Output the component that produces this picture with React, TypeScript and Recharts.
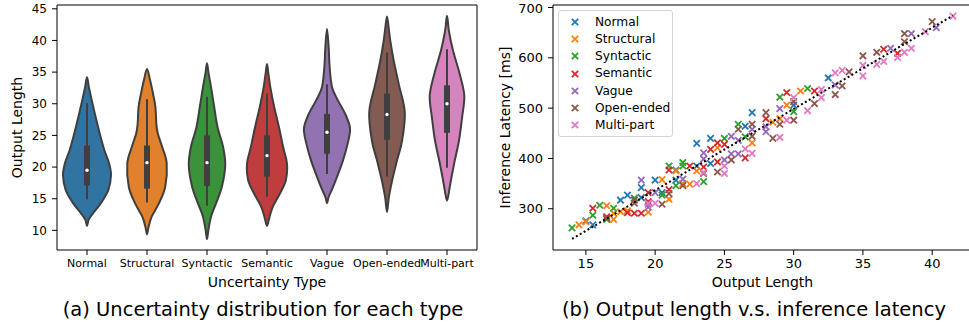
import {
  Bar,
  BarChart,
  Legend,
  Scatter,
  ScatterChart,
  XAxis,
  YAxis,
} from "recharts";

// ---- panel (a): violins ----
const categories = ["Normal", "Structural", "Syntactic", "Semantic", "Vague", "Open-ended", "Multi-part"];
const violinColors = ["#3274a1", "#e1812c", "#3a923a", "#c03d3e", "#9372b2", "#845b53", "#d684bd"];

// [output length, relative half width], bottom tip to top tip
const normalShape = [[10.7, 0], [11.7, 0.07], [12.7, 0.25], [14.3, 0.58], [16.4, 0.89], [18.7, 1], [20.6, 0.92], [22.7, 0.72], [25.3, 0.53], [27.9, 0.36], [30.5, 0.2], [32.6, 0.08], [34.2, 0]];
const structuralShape = [[9.4, 0], [10.6, 0.07], [12.2, 0.2], [14.3, 0.5], [16.9, 0.76], [20.6, 0.82], [23.2, 0.63], [25.3, 0.45], [26.8, 0.39], [29.5, 0.35], [31.6, 0.25], [33.7, 0.13], [35.5, 0]];
const syntacticShape = [[8.6, 0], [10.1, 0.06], [12.2, 0.17], [14.3, 0.38], [16.9, 0.62], [20.3, 0.76], [23.2, 0.67], [26.3, 0.44], [29.5, 0.3], [32.6, 0.17], [34.7, 0.07], [36.4, 0]];
const semanticShape = [[10.7, 0], [12.2, 0.11], [13.8, 0.25], [15.9, 0.55], [18, 0.79], [20.6, 0.83], [23.2, 0.67], [26.3, 0.5], [29.5, 0.3], [32.6, 0.14], [34.7, 0.06], [36.3, 0]];
const vagueShape = [[14.3, 0], [15.3, 0.07], [16.4, 0.2], [18.5, 0.42], [21.1, 0.67], [23.7, 0.86], [26.1, 0.96], [28.4, 0.76], [30.5, 0.46], [32.6, 0.21], [35.8, 0.11], [38.9, 0.07], [41.8, 0]];
const openEndedShape = [[12.9, 0], [15.3, 0.08], [18, 0.22], [21.1, 0.42], [24.2, 0.63], [28.7, 0.74], [33.1, 0.49], [36.8, 0.28], [39.9, 0.14], [42, 0.07], [43.8, 0]];
const multiPartShape = [[14.7, 0], [15.6, 0.06], [17.4, 0.14], [20.6, 0.3], [24.2, 0.5], [27.9, 0.63], [31.3, 0.72], [34.7, 0.53], [38.4, 0.25], [41.5, 0.08], [43.9, 0]];
const violinShapes = [normalShape, structuralShape, syntacticShape, semanticShape, vagueShape, openEndedShape, multiPartShape];

const q1 = [17.1, 16.6, 17.0, 18.5, 22.1, 24.3, 25.4];
const medians = [19.5, 20.7, 20.7, 21.8, 25.5, 28.3, 30.0];
const q3 = [23.4, 23.4, 25.0, 25.0, 28.4, 31.6, 32.9];
const whiskLo = [14.9, 14.4, 13.9, 15.3, 18.9, 18.5, 19.9];
const whiskHi = [30.1, 30.7, 31.1, 31.6, 33.1, 38.1, 38.6];
const lengthTicks = [10, 15, 20, 25, 30, 35, 40, 45];

// ---- panel (b): scatter ----
const scatterColors = ["#1f77b4", "#ff7f0e", "#2ca02c", "#d62728", "#9467bd", "#8c564b", "#e377c2"];
const normalPts = [[15, 276], [15.5, 268], [17.5, 317], [18, 327], [19, 342], [19, 322], [20, 357], [20.5, 332], [21.5, 357], [21.5, 377], [23, 430], [23, 385], [24, 440], [24, 390], [26.5, 464], [27, 491], [30, 506], [32.5, 560]];
const structuralPts = [[14.5, 268], [15, 274], [16.5, 306], [17, 279], [17, 291], [17.5, 294], [18, 296], [19.5, 293], [20.5, 358], [21, 319], [21.5, 375], [22, 350], [22.5, 349], [23, 375], [24.5, 421], [27, 431], [28.5, 472], [29, 479], [29.5, 506], [30.5, 534]];
const syntacticPts = [[14, 262], [15.5, 287], [16, 307], [16.5, 279], [17, 301], [18.5, 321], [20.5, 327], [21, 385], [21.5, 346], [22, 392], [22, 385], [23.5, 354], [25, 440], [26, 468], [26.5, 443], [29, 522], [30, 493], [31, 539]];
const semanticPts = [[15.5, 301], [16.5, 284], [18, 292], [18.5, 291], [19, 291], [19.5, 332], [19.5, 314], [21, 338], [21, 377], [22.5, 385], [23.5, 383], [24, 418], [24.5, 431], [24.5, 393], [25, 428], [26.5, 401], [28, 479], [29.5, 531], [31.5, 534], [36.5, 617], [37.5, 609]];
const vaguePts = [[19, 357], [19.5, 309], [19.5, 303], [20, 332], [22, 359], [23.5, 411], [23.5, 399], [25, 397], [25.5, 444], [25.5, 409], [26, 409], [26, 436], [27, 458], [28, 463], [28, 453], [29, 499], [33, 546], [37, 619], [38.5, 648], [40.3, 660]];
const openEndedPts = [[16.5, 281], [18.5, 317], [18.5, 311], [20.5, 309], [21, 330], [22, 346], [23.5, 370], [24.5, 373], [25.5, 397], [26, 458], [27, 468], [27, 444], [28, 491], [28.5, 440], [29, 468], [30, 476], [30, 513], [31.5, 509], [33, 527], [33.5, 544], [34, 572], [35, 604], [36, 611], [38, 648], [38, 632], [40, 672]];
const multiPartPts = [[19.5, 311], [20, 311], [23, 350], [23.5, 372], [25, 370], [25, 385], [26.5, 419], [27, 410], [29, 442], [29.5, 476], [30, 521], [31, 495], [32, 537], [32, 521], [33, 570], [33.5, 575], [35, 585], [35, 564], [36, 587], [36.5, 593], [37.5, 601], [38, 611], [38.5, 619], [39.5, 652], [41.5, 683]];
const scatterSets = [normalPts, structuralPts, syntacticPts, semanticPts, vaguePts, openEndedPts, multiPartPts];
const trendX = [14, 41.5];
const trendY = [240, 684];
const lengthTicksB = [15, 20, 25, 30, 35, 40];
const latencyTicks = [300, 400, 500, 600, 700];

const INK = "#3f3f3f";
const tickFont = { fontSize: 12, fill: "#000" };

const violinRows = categories.map((name, i) => ({
  name,
  idx: i,
  range: [violinShapes[i][0][0], violinShapes[i][violinShapes[i].length - 1][0]],
}));

const trendData = trendX.map((x, i) => ({ x, y: trendY[i] }));

// closed catmull-rom through the outline points
function smoothClosed(pts: number[][]) {
  const n = pts.length;
  let d = `M${pts[0][0]},${pts[0][1]}`;
  for (let i = 0; i < n; i++) {
    const p0 = pts[(i - 1 + n) % n];
    const p1 = pts[i];
    const p2 = pts[(i + 1) % n];
    const p3 = pts[(i + 2) % n];
    const c1x = p1[0] + (p2[0] - p0[0]) / 6;
    const c1y = p1[1] + (p2[1] - p0[1]) / 6;
    const c2x = p2[0] - (p3[0] - p1[0]) / 6;
    const c2y = p2[1] - (p3[1] - p1[1]) / 6;
    d += `C${c1x},${c1y} ${c2x},${c2y} ${p2[0]},${p2[1]}`;
  }
  return d + "Z";
}

function ViolinShape(props: any) {
  const { x, y, width, height, index, payload } = props;
  const i = payload?.idx ?? index;
  const prof = violinShapes[i];
  const lo = prof[0][0];
  const hi = prof[prof.length - 1][0];
  const top = Math.min(y, y + height);
  const h = Math.abs(height);
  const py = (v: number) => top + ((hi - v) / (hi - lo)) * h;
  const cx = x + width / 2;
  const half = width / 2;
  const right = prof.map(([v, w]) => [cx + w * half, py(v)]);
  const left = prof.slice(1, -1).reverse().map(([v, w]) => [cx - w * half, py(v)]);
  return (
    <g>
      <path d={smoothClosed([...right, ...left])} fill={violinColors[i]} stroke={INK} strokeWidth={2} />
      <line x1={cx} x2={cx} y1={py(whiskLo[i])} y2={py(whiskHi[i])} stroke={INK} strokeWidth={2} />
      <rect x={cx - 3} y={py(q3[i])} width={6} height={py(q1[i]) - py(q3[i])} fill={INK} />
      <circle cx={cx} cy={py(medians[i])} r={1.7} fill="#fff" />
    </g>
  );
}

function XMarker(props: any) {
  const { cx, cy, fill } = props;
  const r = 3.2;
  return (
    <path
      d={`M${cx - r},${cy - r}L${cx + r},${cy + r}M${cx - r},${cy + r}L${cx + r},${cy - r}`}
      stroke={fill}
      strokeWidth={1.8}
    />
  );
}

function LegendBox() {
  return (
    <div
      style={{
        border: "1px solid #d3d3d3",
        borderRadius: 3,
        background: "rgba(255,255,255,0.85)",
        padding: "2px 0",
        width: 113,
        boxSizing: "content-box",
      }}
    >
      {categories.map((c, i) => (
        <div key={c} style={{ display: "flex", alignItems: "center", height: 17.3 }}>
          <svg width={36} height={14} style={{ flex: "none" }}>
            <XMarker cx={16} cy={7} fill={scatterColors[i]} />
          </svg>
          <span style={{ fontSize: 12.2, color: "#000", lineHeight: 1 }}>{c}</span>
        </div>
      ))}
    </div>
  );
}

export default function App() {
  return (
    <div
      style={{
        position: "absolute",
        left: 0,
        top: 0,
        width: 969,
        height: 326,
        overflow: "hidden",
        background: "#fff",
        fontFamily: "DejaVu Sans",
      }}
    >
      <div style={{ position: "absolute", left: 0, top: 0 }}>
        <BarChart
          width={490}
          height={300}
          data={violinRows}
          margin={{ top: 4, right: 12, bottom: 10, left: 0 }}
          barCategoryGap="10%"
        >
          <XAxis
            dataKey="name"
            height={40}
            interval={0}
            tickSize={5}
            tickMargin={4}
            tick={{ fontSize: 11, fill: "#000" }}
            stroke="#000"
            label={{ value: "Uncertainty Type", position: "insideBottom", offset: 3, fontSize: 14, fill: "#000" }}
          />
          <XAxis xAxisId="top" dataKey="name" orientation="top" height={1} tick={false} tickLine={false} stroke="#000" />
          <YAxis
            type="number"
            domain={[6.9, 45.6]}
            ticks={lengthTicks}
            allowDataOverflow
            width={57}
            tickSize={5}
            tickMargin={5}
            tick={tickFont}
            stroke="#000"
            label={{
              value: "Output Length",
              angle: -90,
              position: "insideLeft",
              offset: 17,
              fontSize: 14,
              fill: "#000",
              style: { textAnchor: "middle" },
            }}
          />
          <YAxis
            yAxisId="right"
            orientation="right"
            type="number"
            domain={[0, 1]}
            width={1}
            tick={false}
            tickLine={false}
            stroke="#000"
          />
          <Bar dataKey="range" shape={ViolinShape} isAnimationActive={false} />
        </BarChart>
      </div>

      <div style={{ position: "absolute", left: 490, top: 0 }}>
        <ScatterChart width={490} height={300} margin={{ top: 4, right: 8, bottom: 10, left: 0 }}>
          <XAxis
            type="number"
            dataKey="x"
            domain={[12.625, 42.875]}
            ticks={lengthTicksB}
            allowDataOverflow
            height={40}
            tickSize={5}
            tickMargin={4}
            tick={{ fontSize: 13, fill: "#000" }}
            stroke="#000"
            label={{ value: "Output Length", position: "insideBottom", offset: 3, fontSize: 14, fill: "#000" }}
          />
          <XAxis
            xAxisId="top"
            type="number"
            dataKey="x"
            domain={[12.625, 42.875]}
            allowDataOverflow
            orientation="top"
            height={1}
            tick={false}
            tickLine={false}
            stroke="#000"
          />
          <YAxis
            type="number"
            dataKey="y"
            domain={[218, 705]}
            ticks={latencyTicks}
            allowDataOverflow
            width={63}
            tickSize={5}
            tickMargin={5}
            tick={{ fontSize: 13, fill: "#000" }}
            stroke="#000"
            label={{
              value: "Inference Latency [ms]",
              angle: -90,
              position: "insideLeft",
              offset: 15,
              fontSize: 14,
              fill: "#000",
              style: { textAnchor: "middle" },
            }}
          />
          {scatterSets.map((pts, i) => (
            <Scatter
              key={categories[i]}
              name={categories[i]}
              data={pts.map(([x, y]) => ({ x, y }))}
              fill={scatterColors[i]}
              shape={XMarker}
              isAnimationActive={false}
            />
          ))}
          <Scatter
            name="trend"
            data={trendData}
            legendType="none"
            shape={() => <g />}
            line={{ stroke: "#000", strokeWidth: 2, strokeDasharray: "2 2.5" }}
            isAnimationActive={false}
          />
          <Legend
            layout="vertical"
            align="center"
            verticalAlign="middle"
            content={() => <LegendBox />}
            wrapperStyle={{ left: 68, top: 10, width: 115, height: 125 }}
          />
        </ScatterChart>
      </div>

      <div style={{ position: "absolute", left: 0, width: 526, top: 300, textAlign: "center", fontSize: 19.5, lineHeight: 1, color: "#000" }}>
        (a) Uncertainty distribution for each type
      </div>
      <div style={{ position: "absolute", left: 538, width: 432, top: 300, textAlign: "center", fontSize: 19.5, lineHeight: 1, color: "#000" }}>
        (b) Output length v.s. inference latency
      </div>
    </div>
  );
}
